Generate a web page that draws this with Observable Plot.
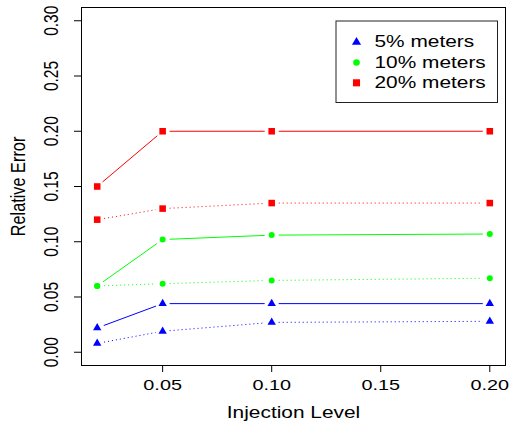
<!DOCTYPE html>
<html><head><meta charset="utf-8">
<script src="https://cdn.jsdelivr.net/npm/d3@7"></script>
<script src="https://cdn.jsdelivr.net/npm/@observablehq/plot@0.6"></script>
<style>body{margin:0;background:#fff}</style>
</head><body><div id="chart"></div>
<script>
const injection = [0.02, 0.05, 0.10, 0.20];
const m5Solid   = [0.022, 0.044, 0.044, 0.044];
const m5Dotted  = [0.008, 0.019, 0.027, 0.028];
const m10Solid  = [0.060, 0.102, 0.106, 0.107];
const m10Dotted = [0.060, 0.062, 0.065, 0.067];
const m20Solid  = [0.150, 0.200, 0.200, 0.200];
const m20Dotted = [0.120, 0.130, 0.135, 0.135];
const seriesNames = ["5% meters", "10% meters", "20% meters"];
const xTicks = [0.05, 0.10, 0.15, 0.20];
const yTicks = [0.00, 0.05, 0.10, 0.15, 0.20, 0.25, 0.30];
const xLabel = "Injection Level";
const yLabel = "Relative Error";

const colors = ["#0000ff", "#00ff00", "#ff0000"];
const symbols = ["triangle", "circle", "square"];
const radii = [3.1, 3.0, 3.7];

const series = [
  {g: 0, vals: m5Solid, dash: null},
  {g: 0, vals: m5Dotted, dash: "1,3"},
  {g: 1, vals: m10Solid, dash: null},
  {g: 1, vals: m10Dotted, dash: "1,3"},
  {g: 2, vals: m20Solid, dash: null},
  {g: 2, vals: m20Dotted, dash: "1,3"}
];

const marks = [];
for (const s of series) {
  const pts = injection.map((x, i) => ({x, y: s.vals[i]}));
  const segs = pts.slice(1).map((p, i) => ({x1: pts[i].x, y1: pts[i].y, x2: p.x, y2: p.y}));
  marks.push(Plot.arrow(segs, {
    x1: "x1", y1: "y1", x2: "x2", y2: "y2", bend: 0, headLength: 0, inset: 7,
    stroke: colors[s.g], strokeWidth: 1, strokeLinecap: "butt",
    strokeDasharray: s.dash || undefined
  }));
  marks.push(Plot.dot(pts, {x: "x", y: "y", symbol: () => symbols[s.g], r: radii[s.g], fill: colors[s.g], stroke: "none"}));
}

const W = 511, H = 427, mL = 81, mR = 6, mT = 7, mB = 62;

const chart = Plot.plot({
  width: W, height: H,
  marginLeft: mL, marginRight: mR, marginTop: mT, marginBottom: mB,
  style: {fontFamily: "'Liberation Sans', Arial, sans-serif", background: "#fff", color: "#000"},
  x: {domain: [0.0128, 0.2072], axis: null},
  y: {domain: [-0.012, 0.312], axis: null},
  symbol: {type: "identity"},
  marks: [
    ...marks,
    Plot.frame({stroke: "#000", strokeWidth: 1}),
    // ticks
    Plot.ruleX(xTicks, {x: d => d, y1: -0.012, y2: -0.012, insetBottom: -7, stroke: "#000"}),
    Plot.ruleY(yTicks, {y: d => d, x1: 0.0128, x2: 0.0128, insetLeft: -7, stroke: "#000"}),
    // tick labels
    Plot.text(xTicks, {x: d => d, text: d => d.toFixed(2), frameAnchor: "bottom", dy: 19.5, textAnchor: "middle", lineAnchor: "middle", fontSize: 15.5, fill: "#000", ariaLabel: "xtick"}),
    Plot.text(yTicks, {y: d => d, text: d => d.toFixed(2), frameAnchor: "left", dx: -30, rotate: -90, textAnchor: "middle", lineAnchor: "middle", fontSize: 15.5, fill: "#000", ariaLabel: "ytick"}),
    // axis titles
    Plot.text([xLabel], {text: d => d, frameAnchor: "bottom", dy: 47.4, textAnchor: "middle", lineAnchor: "middle", fontSize: 16.3, fill: "#000", ariaLabel: "xtitle"}),
    Plot.text([yLabel], {text: d => d, frameAnchor: "left", dx: -62.7, rotate: -90, textAnchor: "middle", lineAnchor: "middle", fontSize: 16.3, fill: "#000", ariaLabel: "ytitle"}),
    // legend box
    Plot.frame({insetLeft: 254.5, insetRight: 8, insetTop: 13.5, insetBottom: 263, fill: "#fff", stroke: "#222", strokeWidth: 1}),
    ...seriesNames.flatMap((name, i) => [
      Plot.dot([name], {frameAnchor: "top-left", dx: 275, dy: 34.7 + 20.3 * i, symbol: () => symbols[i], r: radii[i] + 0.3, fill: colors[i], stroke: "none"}),
      Plot.text([name], {text: d => d, frameAnchor: "top-left", dx: 293, dy: 34.7 + 20.3 * i, textAnchor: "start", lineAnchor: "middle", fontSize: 16.3, fill: "#000", ariaLabel: "legend"})
    ])
  ]
});

// the reference is horizontally stretched; widen glyphs accordingly
chart.querySelectorAll("text").forEach(t => {
  const g = t.closest("g[aria-label]");
  const lab = g ? g.getAttribute("aria-label") : "";
  const tr = t.getAttribute("transform") || "";
  if (/rotate\(/.test(tr)) {
    const k = lab === "ytitle" ? 1.15 : 1.28;
    t.setAttribute("transform", tr + ` scale(1,${k})`);
  } else if (tr) {
    t.setAttribute("transform", tr + " scale(1.28,1)");
  } else {
    const x = +t.getAttribute("x") || 0, y = +t.getAttribute("y") || 0;
    t.setAttribute("transform", `translate(${x},${y}) scale(1.28,1) translate(${-x},${-y})`);
  }
});

document.getElementById("chart").appendChild(chart);
</script>
</body></html>
